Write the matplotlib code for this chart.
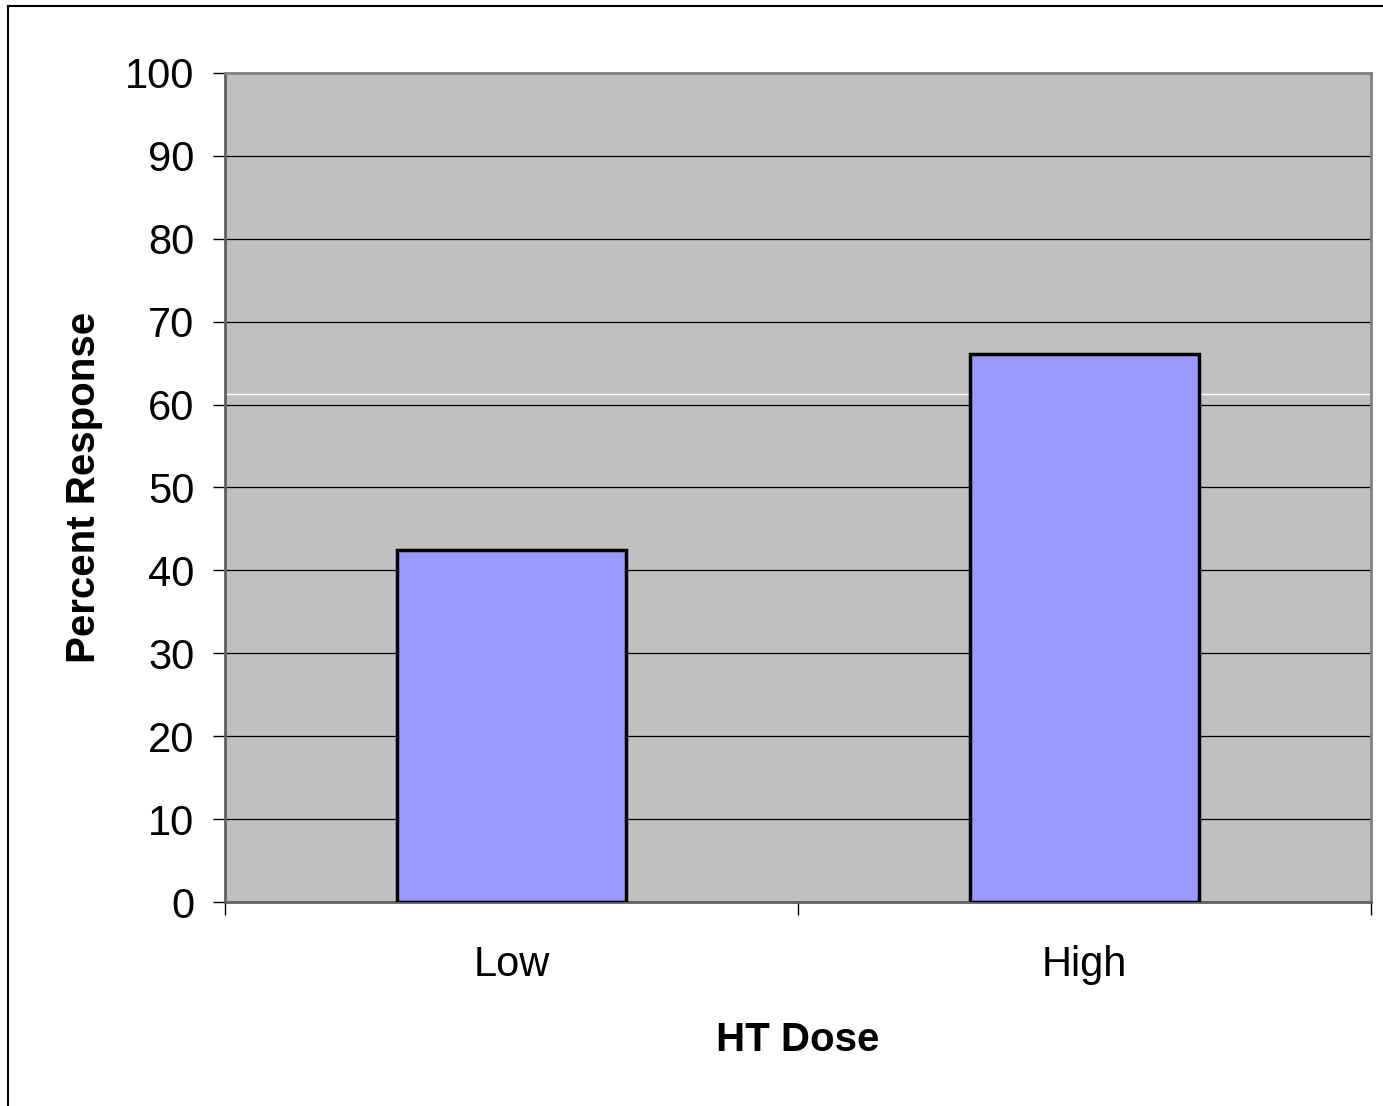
import matplotlib
matplotlib.use("Agg")
import matplotlib.pyplot as plt
from matplotlib.lines import Line2D

categories = ["Low", "High"]
values = [42.5, 66.1]
yticks = [0, 10, 20, 30, 40, 50, 60, 70, 80, 90, 100]
xlabel = "HT Dose"
ylabel = "Percent Response"

plt.rcParams['font.family'] = ['Liberation Sans', 'DejaVu Sans']

fig = plt.figure(figsize=(13.83, 11.06), dpi=100)
fig.patch.set_facecolor('white')
ax = fig.add_axes([225/1383, 1 - 902/1106, (1371-225)/1383, (902-73)/1106])
ax.set_facecolor('#C0C0C0')

x = list(range(len(categories)))
ax.bar(x, values, width=0.4, color='#9999FF', edgecolor='black', linewidth=2.5, zorder=3)

ax.set_xlim(-0.5, len(categories) - 0.5)
ax.set_ylim(0, 100)
ax.set_yticks(yticks)
ax.set_yticklabels([str(v) for v in yticks], fontsize=30)
ax.yaxis.grid(True, color='black', linewidth=0.9, zorder=1)
ax.set_axisbelow(True)
# faint white rendering line seen in the reference
ax.axhline(61.3, color='white', linewidth=1.0, zorder=2)

ax.set_xticks(x)
ax.set_xticklabels(categories, fontsize=30)
ax.set_xticks([i - 0.5 for i in range(len(categories) + 1)], minor=True)
ax.tick_params(axis='x', which='major', length=0, pad=31)
ax.tick_params(axis='x', which='minor', length=9, width=1, color='black', direction='out')
ax.tick_params(axis='y', which='major', length=9, width=1, color='black', direction='out', pad=13)

for s in ['top', 'right']:
    ax.spines[s].set_color('#808080')
    ax.spines[s].set_linewidth(2)
for s in ['left', 'bottom']:
    ax.spines[s].set_color('#606060')
    ax.spines[s].set_linewidth(2)

ax.set_xlabel(xlabel, fontsize=29, fontweight='bold', labelpad=26)
ax.set_ylabel(ylabel, fontsize=29, fontweight='bold', labelpad=16)

# outer chart border (left and top visible)
fig.add_artist(Line2D([8/1383, 8/1383], [0, 1 - 6/1106], transform=fig.transFigure, color='black', linewidth=1.5))
fig.add_artist(Line2D([8/1383, 1], [1 - 6/1106, 1 - 6/1106], transform=fig.transFigure, color='black', linewidth=1.5))

fig.savefig("out.png", dpi=100)
